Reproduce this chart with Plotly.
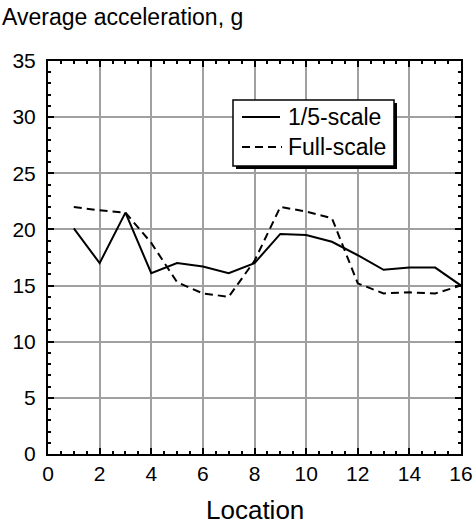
import plotly.graph_objects as go

# Average acceleration at each measurement location
locations = list(range(1, 17))
one_fifth_scale = [20.1, 17.0, 21.5, 16.1, 17.0, 16.7, 16.1, 17.0,
                   19.6, 19.5, 18.9, 17.7, 16.4, 16.6, 16.6, 15.0]
full_scale = [22.0, 21.7, 21.5, 18.8, 15.3, 14.3, 14.0, 17.2,
              22.0, 21.6, 21.0, 15.2, 14.3, 14.4, 14.3, 15.0]

x_ticks = list(range(0, 17, 2))
y_ticks = list(range(0, 36, 5))

FONT = "Liberation Sans, Arial, sans-serif"
DASH = "8px,5px"

fig = go.Figure()
fig.add_trace(go.Scatter(x=locations, y=one_fifth_scale, mode="lines",
                         name="1/5-scale", line=dict(color="black", width=2)))
fig.add_trace(go.Scatter(x=locations, y=full_scale, mode="lines",
                         name="Full-scale",
                         line=dict(color="black", width=2, dash=DASH)))

axis_common = dict(
    showline=True, linecolor="black", linewidth=2, mirror="allticks",
    ticks="inside", ticklen=6, tickwidth=1.5, tickcolor="black",
    showgrid=True, gridcolor="#a0a0a0", gridwidth=1.5,
    zeroline=False, automargin=False,
    tickfont=dict(size=21, color="black", family=FONT),
)

fig.update_xaxes(range=[0, 16], tickvals=x_ticks, ticktext=[str(v) for v in x_ticks],
                 minor=dict(dtick=0.5, ticks="inside", ticklen=3, tickcolor="black",
                            showgrid=False),
                 **axis_common)
fig.update_yaxes(range=[0, 35], tickvals=y_ticks, ticktext=[str(v) for v in y_ticks],
                 minor=dict(dtick=1, ticks="inside", ticklen=3, tickcolor="black",
                            showgrid=False),
                 ticklabelstandoff=6,
                 **axis_common)

# Legend box with drop shadow, drawn in paper coordinates
def px_x(p):
    return (p - 48) / 413

def px_y(p):
    return (454 - p) / 393

shapes = [
    dict(type="rect", xref="paper", yref="paper",
         x0=px_x(236), x1=px_x(397), y0=px_y(169), y1=px_y(103),
         fillcolor="black", line=dict(width=0), layer="above"),
    dict(type="rect", xref="paper", yref="paper",
         x0=px_x(233), x1=px_x(394), y0=px_y(166), y1=px_y(100),
         fillcolor="white", line=dict(color="black", width=1.5), layer="above"),
    dict(type="line", xref="paper", yref="paper",
         x0=px_x(242), x1=px_x(280), y0=px_y(117), y1=px_y(117),
         line=dict(color="black", width=2), layer="above"),
    dict(type="line", xref="paper", yref="paper",
         x0=px_x(242), x1=px_x(282), y0=px_y(147), y1=px_y(147),
         line=dict(color="black", width=2, dash=DASH), layer="above"),
]
annotations = [
    dict(text="1/5-scale", xref="paper", yref="paper", x=px_x(286), y=px_y(117),
         xanchor="left", yanchor="middle", showarrow=False,
         font=dict(size=23, color="black", family=FONT)),
    dict(text="Full-scale", xref="paper", yref="paper", x=px_x(286), y=px_y(147),
         xanchor="left", yanchor="middle", showarrow=False,
         font=dict(size=23, color="black", family=FONT)),
    dict(text="Average acceleration, g", xref="paper", yref="paper",
         x=px_x(0), y=px_y(2), xanchor="left", yanchor="top", showarrow=False,
         font=dict(size=23, color="black", family=FONT)),
    dict(text="Location", xref="paper", yref="paper",
         x=0.5, y=px_y(510), xanchor="center", yanchor="middle", showarrow=False,
         font=dict(size=26, color="black", family=FONT)),
]

fig.update_layout(
    width=474, height=525,
    margin=dict(l=48, r=13, t=61, b=71),
    paper_bgcolor="white", plot_bgcolor="white",
    showlegend=False,
    shapes=shapes, annotations=annotations,
    font=dict(family=FONT, color="black"),
)

fig.write_html("out.html")
